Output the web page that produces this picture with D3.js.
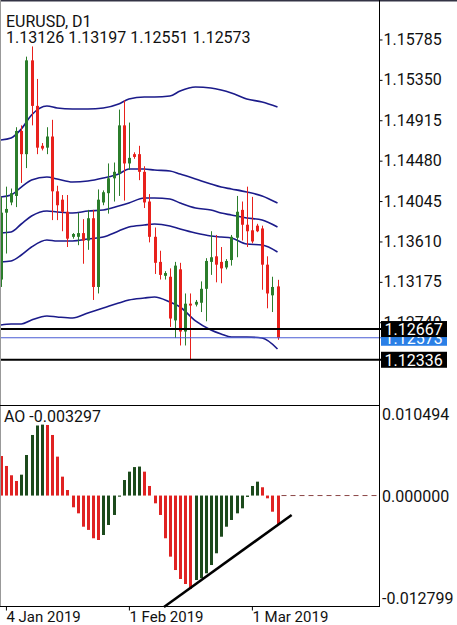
<!DOCTYPE html>
<html>
<head>
<meta charset="utf-8">
<script src="https://cdn.jsdelivr.net/npm/d3@7"></script>
<style>
body { margin: 0; background: #fff; }
svg { display: block; font-family: Roboto, "Noto Sans", sans-serif; }
</style>
</head>
<body>
<svg id="chart" width="457" height="625"></svg>
<script>
// daily bars, Sunday sessions included (broker feed)
const dates = ["2019-01-03","2019-01-04","2019-01-06","2019-01-07","2019-01-08","2019-01-09","2019-01-10","2019-01-11",
  "2019-01-13","2019-01-14","2019-01-15","2019-01-16","2019-01-17","2019-01-18","2019-01-20","2019-01-21","2019-01-22",
  "2019-01-23","2019-01-24","2019-01-25","2019-01-27","2019-01-28","2019-01-29","2019-01-30","2019-01-31","2019-02-01",
  "2019-02-03","2019-02-04","2019-02-05","2019-02-06","2019-02-07","2019-02-08","2019-02-10","2019-02-11","2019-02-12",
  "2019-02-13","2019-02-14","2019-02-15","2019-02-17","2019-02-18","2019-02-19","2019-02-20","2019-02-21","2019-02-22",
  "2019-02-24","2019-02-25","2019-02-26","2019-02-27","2019-02-28","2019-03-01","2019-03-03","2019-03-04","2019-03-05",
  "2019-03-06","2019-03-07"];
const open  = [1.1320,1.1392,1.1403,1.1410,1.1480,1.1455,1.1556,1.1507,1.1464,1.1462,1.1474,1.1415,1.1406,1.1393,1.1366,1.1366,1.1370,
  1.1362,1.1386,1.1312,1.1403,1.1413,1.1429,1.1434,1.1486,1.1445,1.1455,1.1455,1.1436,1.1404,1.1366,1.1339,1.1324,1.1323,1.1276,
  1.1331,1.1264,1.1294,1.1293,1.1295,1.1310,1.1339,1.1345,1.1339,1.1333,1.1341,1.1365,1.1395,1.1379,1.1373,1.1378,1.1375,1.1336,
  1.1303,1.13126];
const high  = [1.1409,1.1420,1.1418,1.1484,1.1486,1.1560,1.1571,1.1536,1.1467,1.1484,1.1492,1.1421,1.1411,1.1411,1.1370,1.1392,1.1385,
  1.1395,1.1395,1.1417,1.1416,1.1445,1.1446,1.1503,1.1513,1.1489,1.1457,1.1464,1.1442,1.1412,1.1376,1.1351,1.1329,1.1332,1.1339,
  1.1338,1.1305,1.1305,1.1298,1.1318,1.1343,1.1372,1.1368,1.1355,1.1342,1.1368,1.1410,1.1404,1.1420,1.1409,1.1380,1.1378,1.1345,
  1.1323,1.13197];
const low   = [1.1312,1.1348,1.1400,1.1398,1.1424,1.1440,1.1486,1.1455,1.1459,1.1455,1.1384,1.1384,1.1372,1.1355,1.1364,1.1357,1.1337,
  1.1352,1.1298,1.1305,1.1400,1.1391,1.1404,1.1410,1.1405,1.1438,1.1450,1.1427,1.1397,1.1360,1.1326,1.1320,1.1320,1.1269,1.1257,
  1.1249,1.1249,1.12336,1.1291,1.1285,1.1275,1.1325,1.1317,1.1316,1.1331,1.1335,1.1344,1.1362,1.1355,1.1359,1.1371,1.1309,1.1289,
  1.1285,1.12551];
const close = [1.1392,1.1396,1.1413,1.1480,1.1455,1.1556,1.1507,1.1462,1.1461,1.1474,1.1415,1.1400,1.1393,1.1364,1.1369,1.1370,1.1362,
  1.1386,1.1312,1.1406,1.1414,1.1429,1.1436,1.1486,1.1445,1.1451,1.1452,1.1436,1.1403,1.1366,1.1338,1.1325,1.1327,1.1278,1.1335,
  1.1264,1.1294,1.1292,1.1296,1.1310,1.1340,1.1344,1.1336,1.1332,1.1340,1.1366,1.1393,1.1379,1.1372,1.1361,1.1372,1.1336,1.1305,
  1.1312,1.12573];

// Awesome Oscillator, one value per bar
const ao = [0.00458,0.00343,0.00235,0.00169,0.00242,0.00470,0.00702,0.00812,0.00822,0.00818,0.00702,0.00451,0.00219,0.00064,
  -0.00136,-0.00206,-0.00361,-0.00398,-0.00495,-0.00515,-0.00457,-0.00341,-0.00225,-0.00013,0.00180,0.00277,0.00330,0.00336,
  0.00277,0.00111,-0.00090,-0.00225,-0.00495,-0.00708,-0.00863,-0.00967,-0.01025,-0.01083,-0.00979,-0.00959,-0.00901,-0.00805,
  -0.00669,-0.00477,-0.00361,-0.00283,-0.00206,-0.00148,-0.00016,0.00111,0.00161,0.00096,-0.00032,-0.00187,-0.003297];

// band lines read at a subset of bars
const bandDates = ["2019-01-03","2019-01-06","2019-01-08","2019-01-10","2019-01-14","2019-01-16","2019-01-20","2019-01-23",
  "2019-01-27","2019-01-30","2019-02-01","2019-02-05","2019-02-07","2019-02-11","2019-02-13","2019-02-17","2019-02-20",
  "2019-02-22","2019-02-25","2019-02-28","2019-03-04","2019-03-07"];
const bandTop = [1.14703,1.14724,1.14821,1.14972,1.15069,1.15047,1.15036,1.15036,1.15047,1.15090,1.15144,1.15166,1.15166,
  1.15176,1.15230,1.15273,1.15263,1.15241,1.15209,1.15144,1.15112,1.15058];
const bandUp = [1.14089,1.14110,1.14196,1.14272,1.14304,1.14283,1.14250,1.14261,1.14293,1.14336,1.14390,1.14390,1.14379,
  1.14369,1.14336,1.14283,1.14229,1.14196,1.14175,1.14143,1.14100,1.14024];
const bandMid = [1.13701,1.13712,1.13798,1.13884,1.13938,1.13927,1.13916,1.13938,1.13949,1.13992,1.14024,1.14078,1.14078,
  1.14067,1.14024,1.13970,1.13949,1.13916,1.13895,1.13863,1.13841,1.13766];
const bandDn = [1.13389,1.13400,1.13464,1.13550,1.13626,1.13615,1.13615,1.13636,1.13658,1.13723,1.13766,1.13787,1.13798,
  1.13776,1.13744,1.13701,1.13669,1.13658,1.13647,1.13583,1.13572,1.13497];
const bandBot = [1.12710,1.12721,1.12721,1.12764,1.12807,1.12797,1.12786,1.12840,1.12893,1.12947,1.12980,1.13001,1.13012,
  1.12958,1.12904,1.12754,1.12657,1.12614,1.12581,1.12581,1.12570,1.12452];

const priceTicks = [1.15785,1.15350,1.14915,1.14480,1.14045,1.13610,1.13175,1.12740];
const levels = [1.12667, 1.12336];
const lastPrice = 1.12573;
const aoTicks = [0.010494, 0, -0.012799];
const dateTicks = ["2019-01-04","2019-02-01","2019-03-01"];
const dateTickLabels = ["4 Jan 2019","1 Feb 2019","1 Mar 2019"];
const trendDates = [31.84, 56.76];   // bar positions of the drawn trendline ends
const trendValues = [-0.01291, -0.00225];

const axisX = 379, mainBottom = 405, aoBottom = 606;
const green = "#2b7d2b", red = "#e8211c", aoGreen = "#1c4a1c", aoRed = "#e02222", navy = "#1b1b8a";

const svg = d3.select("#chart");

const x = d3.scaleLinear().domain([0, dates.length - 1]).range([0.8, 277.5]);
const y = d3.scaleLinear().domain([1.11849, 1.16210]).range([mainBottom, 0]);
const yAO = d3.scaleLinear().domain([-0.012799, 0.010494]).range([aoBottom, mainBottom]);
const idx = d => dates.indexOf(d);

svg.append("defs").call(g => {
  g.append("clipPath").attr("id", "clipMain").append("rect")
    .attr("x", 0).attr("y", 0).attr("width", axisX).attr("height", mainBottom);
  g.append("clipPath").attr("id", "clipAO").append("rect")
    .attr("x", 0).attr("y", mainBottom).attr("width", axisX).attr("height", aoBottom - mainBottom);
});

const main = svg.append("g").attr("clip-path", "url(#clipMain)");

// band lines
const bandLine = d3.line()
  .x((d, i) => x(idx(bandDates[i])))
  .y(d => y(d))
  .curve(d3.curveMonotoneX);
[bandTop, bandUp, bandMid, bandDn, bandBot].forEach(b => {
  main.append("path").attr("d", bandLine(b))
    .attr("fill", "none").attr("stroke", navy).attr("stroke-width", 1.6);
});

// candles
const bars = d3.range(dates.length);
main.append("g").selectAll("line").data(bars).enter().append("line")
  .attr("x1", i => Math.round(x(i)) + 0.5).attr("x2", i => Math.round(x(i)) + 0.5)
  .attr("y1", i => y(high[i])).attr("y2", i => y(low[i]))
  .attr("stroke", i => close[i] >= open[i] ? green : red)
  .attr("stroke-width", 1);
main.append("g").selectAll("rect").data(bars).enter().append("rect")
  .attr("x", i => Math.round(x(i)) - 1)
  .attr("width", 3)
  .attr("y", i => y(Math.max(open[i], close[i])))
  .attr("height", i => Math.max(1, Math.abs(y(open[i]) - y(close[i]))))
  .attr("fill", i => close[i] >= open[i] ? green : red);

// level lines
svg.append("line").attr("x1", 0).attr("x2", 381)
  .attr("y1", y(lastPrice)).attr("y2", y(lastPrice))
  .attr("stroke", "#4a5cd4").attr("stroke-width", 1);
levels.forEach(v => {
  svg.append("line").attr("x1", 0).attr("x2", 381)
    .attr("y1", y(v)).attr("y2", y(v))
    .attr("stroke", "#000").attr("stroke-width", 2);
});

// AO histogram
const aoG = svg.append("g").attr("clip-path", "url(#clipAO)");
aoG.selectAll("rect").data(bars).enter().append("rect")
  .attr("x", i => Math.round(x(i)) - 1)
  .attr("width", 3)
  .attr("y", i => yAO(Math.max(0, ao[i])))
  .attr("height", i => Math.max(1, Math.abs(yAO(ao[i]) - yAO(0))))
  .attr("fill", i => (i > 0 && ao[i] > ao[i - 1]) ? aoGreen : aoRed);

svg.append("line")
  .attr("x1", x(dates.length - 1) + 4).attr("x2", axisX)
  .attr("y1", yAO(0)).attr("y2", yAO(0))
  .attr("stroke", "#8a4545").attr("stroke-width", 1).attr("stroke-dasharray", "5,4");

// frame
svg.append("line").attr("x1", 0).attr("x2", 457).attr("y1", 0.75).attr("y2", 0.75)
  .attr("stroke", "#333344").attr("stroke-width", 1.5);
svg.append("line").attr("x1", 0.5).attr("x2", 0.5).attr("y1", 0).attr("y2", aoBottom)
  .attr("stroke", "#999").attr("stroke-width", 1);
svg.append("line").attr("x1", 0).attr("x2", axisX).attr("y1", mainBottom + 0.5).attr("y2", mainBottom + 0.5)
  .attr("stroke", "#000").attr("stroke-width", 1);
svg.append("line").attr("x1", axisX + 0.5).attr("x2", axisX + 0.5).attr("y1", 0).attr("y2", aoBottom)
  .attr("stroke", "#000").attr("stroke-width", 1);

// price axis
const pAxis = svg.append("g").attr("transform", "translate(" + (axisX + 0.5) + ",0)")
  .call(d3.axisRight(y).tickValues(priceTicks).tickSize(3).tickPadding(1).tickFormat(d3.format(".5f")));
pAxis.select(".domain").remove();
pAxis.selectAll("text").attr("font-size", 16).attr("font-family", "Roboto").attr("fill", "#111");

// price tags
function tag(v, fill) {
  svg.append("rect").attr("x", 381).attr("y", y(v) - 8).attr("width", 66).attr("height", 16).attr("fill", fill);
  svg.append("text").attr("x", 384.5).attr("y", y(v)).attr("dy", "0.36em")
    .attr("font-size", 16).attr("fill", "#fff").text(v.toFixed(5));
}
tag(lastPrice, "#2a7fe6");
levels.forEach(v => tag(v, "#000"));

// AO axis labels
svg.selectAll(".aoLab").data(aoTicks).enter().append("text")
  .attr("x", 382)
  .attr("y", (d, i) => yAO(d) + [9.5, 0.5, -7.5][i])
  .attr("dy", "0.36em")
  .attr("font-size", 16).attr("fill", "#111")
  .text(d => d.toFixed(6));

// time axis
const tAxis = svg.append("g").attr("transform", "translate(0," + (aoBottom + 0.5) + ")")
  .call(d3.axisBottom(x).tickValues(dateTicks.map(idx)).tickSize(4).tickPadding(1)
    .tickFormat((d, i) => dateTickLabels[i]));
tAxis.select(".domain").attr("d", "M0,0H" + (axisX + 1)).attr("stroke", "#000");
tAxis.selectAll("text").attr("font-size", 15).attr("font-family", "Roboto")
  .attr("text-anchor", "start").attr("dx", 0).attr("fill", "#111");

// trendline on AO
svg.append("line")
  .attr("x1", x(trendDates[0])).attr("y1", yAO(trendValues[0]))
  .attr("x2", x(trendDates[1])).attr("y2", yAO(trendValues[1]))
  .attr("stroke", "#000").attr("stroke-width", 2.5);

// headers
svg.append("text").attr("x", 6).attr("y", 26.5).attr("font-size", 16).attr("fill", "#111").text("EURUSD, D1");
svg.append("text").attr("x", 6).attr("y", 43.3).attr("font-size", 16).attr("fill", "#111")
  .text([open, high, low, close].map(a => a[a.length - 1].toFixed(5)).join(" "));
svg.append("text").attr("x", 4).attr("y", 421.5).attr("font-size", 16).attr("fill", "#111")
  .text("AO " + ao[ao.length - 1].toFixed(6));
</script>
</body>
</html>
